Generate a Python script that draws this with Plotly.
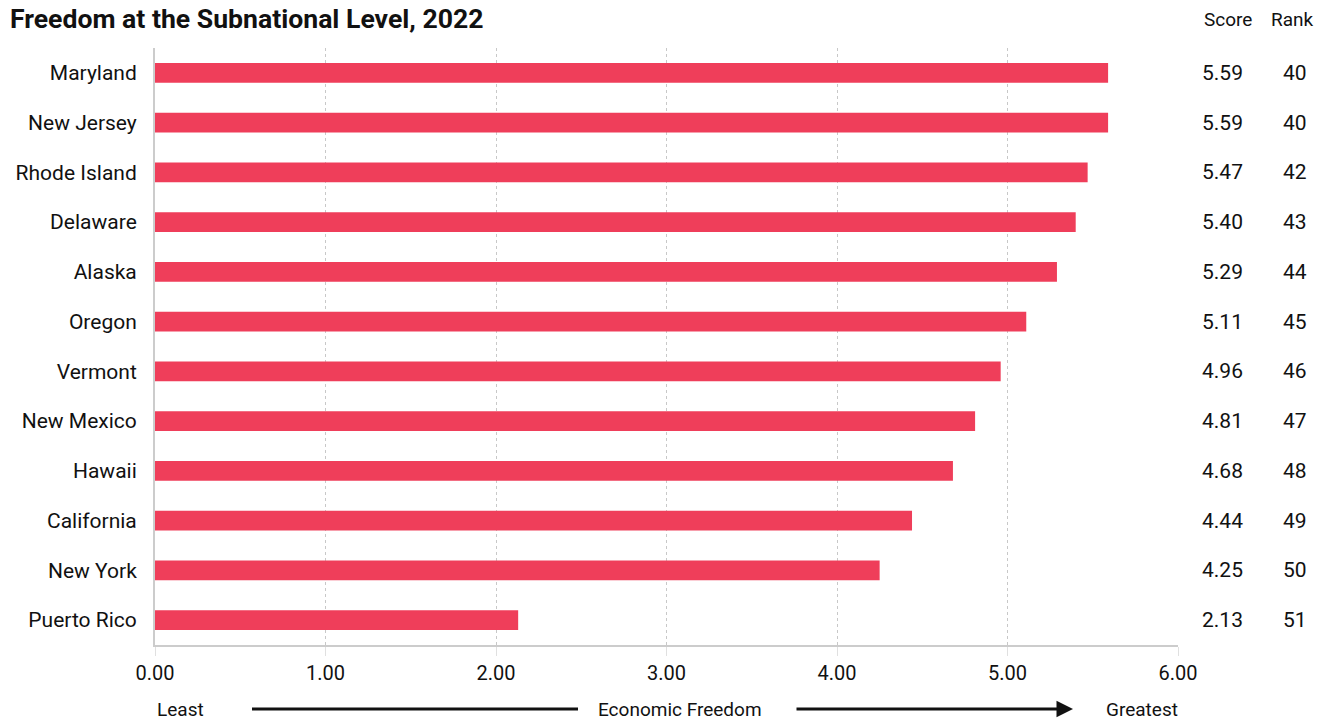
import plotly.graph_objects as go

states = ["Maryland", "New Jersey", "Rhode Island", "Delaware", "Alaska", "Oregon",
          "Vermont", "New Mexico", "Hawaii", "California", "New York", "Puerto Rico"]
scores = [5.59, 5.59, 5.47, 5.40, 5.29, 5.11, 4.96, 4.81, 4.68, 4.44, 4.25, 2.13]
ranks = [40, 40, 42, 43, 44, 45, 46, 47, 48, 49, 50, 51]
tick_vals = [0, 1, 2, 3, 4, 5, 6]
tick_text = ["0.00", "1.00", "2.00", "3.00", "4.00", "5.00", "6.00"]

FONT = "Roboto"
W, H = 1327, 721
L, R, T, B = 155, 149, 48, 76
pw, ph = W - L - R, H - T - B

def px_x(p):
    return (p - L) / pw

def px_y(p):
    return (H - B - p) / ph

fig = go.Figure()
fig.add_trace(go.Bar(
    x=scores, y=states, orientation="h", width=0.4,
    marker=dict(color="#EF3E5A", line=dict(width=0)),
    hoverinfo="x+y",
))

annotations = []
annotations.append(dict(text="<b>Freedom at the Subnational Level, 2022</b>", xref="paper", yref="paper",
                        x=px_x(8), y=px_y(1), xanchor="left", yanchor="top", showarrow=False,
                        font=dict(family=FONT, size=26.6, color="#111")))
annotations.append(dict(text="Score", xref="paper", yref="paper", x=px_x(1228), y=px_y(19),
                        xanchor="center", yanchor="middle", showarrow=False,
                        font=dict(family=FONT, size=19, color="#111")))
annotations.append(dict(text="Rank", xref="paper", yref="paper", x=px_x(1292), y=px_y(19),
                        xanchor="center", yanchor="middle", showarrow=False,
                        font=dict(family=FONT, size=19, color="#111")))
for s, v, r in zip(states, scores, ranks):
    annotations.append(dict(text=f"{v:.2f}", xref="paper", yref="y", x=px_x(1222), y=s,
                            xanchor="center", yanchor="middle", showarrow=False,
                            font=dict(family=FONT, size=21, color="#111")))
    annotations.append(dict(text=str(r), xref="paper", yref="y", x=px_x(1295), y=s,
                            xanchor="center", yanchor="middle", showarrow=False,
                            font=dict(family=FONT, size=21, color="#111")))

by = px_y(709)
for txt, xp in [("Least", 180), ("Economic Freedom", 680), ("Greatest", 1142)]:
    annotations.append(dict(text=txt, xref="paper", yref="paper", x=px_x(xp), y=by,
                            xanchor="center", yanchor="middle", showarrow=False,
                            font=dict(family=FONT, size=19, color="#111")))
annotations.append(dict(text="", xref="paper", yref="paper", x=px_x(1073), y=by,
                        ax=795 - 1073, ay=0, axref="pixel", ayref="pixel",
                        showarrow=True, arrowhead=2, arrowsize=1.1, arrowwidth=3, arrowcolor="#111"))

shapes = [dict(type="line", xref="paper", yref="paper", x0=px_x(252), x1=px_x(578), y0=by, y1=by,
               line=dict(color="#111", width=3))]

fig.update_layout(
    width=W, height=H,
    margin=dict(l=L, r=R, t=T, b=B, pad=0),
    plot_bgcolor="white", paper_bgcolor="white",
    showlegend=False,
    bargap=0.6,
    font=dict(family=FONT, size=20, color="#111"),
    annotations=annotations, shapes=shapes,
    xaxis=dict(range=[0, 6], tickvals=tick_vals, ticktext=tick_text,
               showgrid=True, gridcolor="#c8c8c8", griddash="dot", gridwidth=1,
               ticks="outside", ticklen=9, tickcolor="#e0e0e0", tickwidth=1,
               showline=True, linecolor="#cccccc", linewidth=2,
               zeroline=False, tickfont=dict(family=FONT, size=20, color="#111"),
               fixedrange=True),
    yaxis=dict(categoryorder="array", categoryarray=states[::-1],
               showgrid=False, zeroline=False, showline=True, linecolor="#cccccc", linewidth=2,
               ticks="", ticklabelstandoff=12, tickfont=dict(family=FONT, size=21, color="#111"),
               fixedrange=True),
)

fig.write_html("out.html")
